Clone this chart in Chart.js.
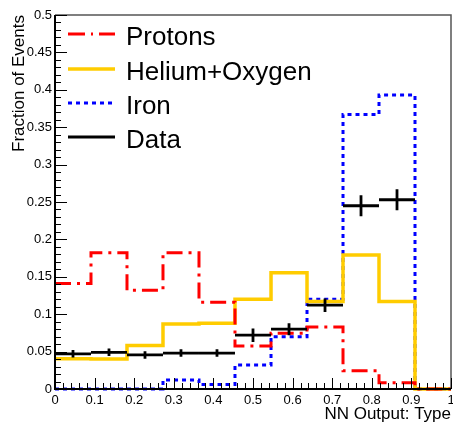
<!DOCTYPE html>
<html>
<head>
<meta charset="utf-8">
<script src="https://cdn.jsdelivr.net/npm/chart.js@4.4.1/dist/chart.umd.min.js"></script>
<style>
  html, body { margin: 0; padding: 0; background: #ffffff; }
  canvas { display: block; }
</style>
</head>
<body>
<canvas id="chart" width="453" height="425"></canvas>
<script>
// Histogram binning of the NN output (11 bins on [0, 1])
const binEdges = [0, 0.0909, 0.1818, 0.2727, 0.3636, 0.4545, 0.5455, 0.6364, 0.7273, 0.8182, 0.9091, 1.0];

// Simulated fractions per bin
const protons      = [0.141, 0.182, 0.132, 0.182, 0.116, 0.0575, 0.0745, 0.083, 0.0245, 0.0085, 0];
const heliumOxygen = [0.0405, 0.040, 0.058, 0.087, 0.088, 0.120, 0.1555, 0.117, 0.179, 0.117, 0];
const iron         = [0, 0, 0, 0.012, 0.006, 0.032, 0.070, 0.120, 0.367, 0.393, 0];

// Measured fractions with statistical errors
const dataValues = [0.047, 0.049, 0.0455, 0.048, 0.048, 0.072, 0.080, 0.112, 0.245, 0.253];
const dataErrors = [0.005, 0.005, 0.005, 0.005, 0.005, 0.009, 0.008, 0.009, 0.014, 0.014];

// Axis tick settings
const xMajorStep = 0.1, xMinorStep = 0.02;
const yMajorStep = 0.05, yMinorStep = 0.01;

const FONT = "'Liberation Sans', Arial, Helvetica, sans-serif";

// Step outline: one point at each bin's low edge plus the closing edge
function histPoints(vals) {
  const pts = vals.map((v, i) => ({ x: binEdges[i], y: v }));
  pts.push({ x: binEdges[binEdges.length - 1], y: vals[vals.length - 1] });
  return pts;
}

function isMajor(v, step) {
  const r = v / step;
  return Math.abs(r - Math.round(r)) < 1e-6;
}

const legendItems = [
  { label: 'Protons',       color: '#ff0000', width: 3,   dash: [17, 6, 2, 6] },
  { label: 'Helium+Oxygen', color: '#ffcc00', width: 3.5, dash: [] },
  { label: 'Iron',          color: '#0000ff', width: 3,   dash: [4, 4] },
  { label: 'Data',          color: '#000000', width: 3,   dash: [] }
];

// Data points: horizontal bar over the bin and vertical error bar at the centre
const dataMarkers = {
  id: 'dataMarkers',
  afterDatasetsDraw(chart) {
    const { ctx, scales: { x, y } } = chart;
    ctx.save();
    ctx.strokeStyle = '#000';
    ctx.lineWidth = 2.8;
    ctx.setLineDash([]);
    dataValues.forEach((v, i) => {
      const x0 = x.getPixelForValue(binEdges[i]);
      const x1 = x.getPixelForValue(binEdges[i + 1]);
      const xc = x.getPixelForValue((binEdges[i] + binEdges[i + 1]) / 2);
      const yv = y.getPixelForValue(v);
      ctx.beginPath();
      ctx.moveTo(x0, yv); ctx.lineTo(x1, yv);
      ctx.moveTo(xc, y.getPixelForValue(v - dataErrors[i]));
      ctx.lineTo(xc, y.getPixelForValue(v + dataErrors[i]));
      ctx.stroke();
    });
    ctx.restore();
  }
};

// Frame, inward tick marks and legend
const frameAndLegend = {
  id: 'frameAndLegend',
  afterDraw(chart) {
    const { ctx, chartArea: a, scales: { x, y } } = chart;
    ctx.save();
    ctx.setLineDash([]);

    // top and right frame
    ctx.strokeStyle = '#555';
    ctx.lineWidth = 1.5;
    ctx.beginPath();
    ctx.moveTo(a.left, a.top); ctx.lineTo(a.right, a.top); ctx.lineTo(a.right, a.bottom);
    ctx.stroke();

    // tick marks pointing into the plot
    ctx.strokeStyle = '#000';
    ctx.lineWidth = 1;
    ctx.beginPath();
    y.ticks.forEach(t => {
      const p = Math.round(y.getPixelForValue(t.value)) + 0.5;
      const len = isMajor(t.value, yMajorStep) ? 12 : 6;
      ctx.moveTo(a.left, p); ctx.lineTo(a.left + len, p);
    });
    x.ticks.forEach(t => {
      const p = Math.round(x.getPixelForValue(t.value)) + 0.5;
      const len = isMajor(t.value, xMajorStep) ? 11 : 6;
      ctx.moveTo(p, a.bottom); ctx.lineTo(p, a.bottom - len);
    });
    ctx.stroke();

    // axis lines
    ctx.lineWidth = 2;
    ctx.beginPath();
    ctx.moveTo(a.left, a.top); ctx.lineTo(a.left, a.bottom); ctx.lineTo(a.right, a.bottom);
    ctx.stroke();

    // legend
    const lx0 = 68, lx1 = 115, tx = 126;
    const rows = [34, 69, 103, 137];
    ctx.font = '26px ' + FONT;
    ctx.textAlign = 'left';
    ctx.textBaseline = 'alphabetic';
    legendItems.forEach((it, i) => {
      ctx.strokeStyle = it.color;
      ctx.lineWidth = it.width;
      ctx.setLineDash(it.dash);
      ctx.beginPath();
      ctx.moveTo(lx0, rows[i]); ctx.lineTo(lx1, rows[i]);
      ctx.stroke();
      ctx.setLineDash([]);
      ctx.fillStyle = '#000';
      ctx.fillText(it.label, tx, rows[i] + 11);
    });
    ctx.restore();
  }
};

const stepDataset = (label, vals, color, width, dash) => ({
  label,
  data: histPoints(vals),
  borderColor: color,
  borderWidth: width,
  borderDash: dash,
  stepped: true,
  fill: false,
  pointRadius: 0,
  pointHoverRadius: 0,
  tension: 0,
  clip: 4
});

new Chart(document.getElementById('chart'), {
  type: 'line',
  data: {
    datasets: [
      stepDataset('Protons', protons, '#ff0000', 3, [16, 6, 3, 6]),
      stepDataset('Helium+Oxygen', heliumOxygen, '#ffcc00', 3.5, []),
      stepDataset('Iron', iron, '#0000ff', 3, [4, 4])
    ]
  },
  options: {
    responsive: false,
    animation: false,
    events: [],
    layout: { padding: { top: 15, right: 2, bottom: 0, left: 0 } },
    plugins: { legend: { display: false }, tooltip: { enabled: false } },
    scales: {
      x: {
        type: 'linear',
        min: 0,
        max: 1,
        border: { display: false },
        grid: { display: false, drawTicks: false },
        ticks: {
          stepSize: xMinorStep,
          autoSkip: false,
          maxRotation: 0,
          padding: 4,
          color: '#000',
          font: { family: FONT, size: 13 },
          callback: v => isMajor(v, xMajorStep) ? String(Math.round(v * 10) / 10) : ''
        },
        title: {
          display: true,
          text: 'NN Output: Type',
          align: 'end',
          color: '#000',
          padding: { top: 0, bottom: 0 },
          font: { family: FONT, size: 17 }
        },
        afterFit(scale) {
          scale.height = 36;
          scale.paddingLeft = 0;
          scale.paddingRight = 0;
        }
      },
      y: {
        min: 0,
        max: 0.5,
        border: { display: false },
        grid: { display: false, drawTicks: false },
        ticks: {
          stepSize: yMinorStep,
          autoSkip: false,
          padding: 3,
          color: '#000',
          font: { family: FONT, size: 13 },
          callback: v => isMajor(v, yMajorStep) ? String(Math.round(v * 100) / 100) : ''
        },
        title: {
          display: true,
          text: 'Fraction of Events',
          align: 'end',
          color: '#000',
          padding: { top: 9, bottom: 0 },
          font: { family: FONT, size: 17 }
        },
        afterFit(scale) { scale.width = 55; }
      }
    }
  },
  plugins: [dataMarkers, frameAndLegend]
});
</script>
</body>
</html>
